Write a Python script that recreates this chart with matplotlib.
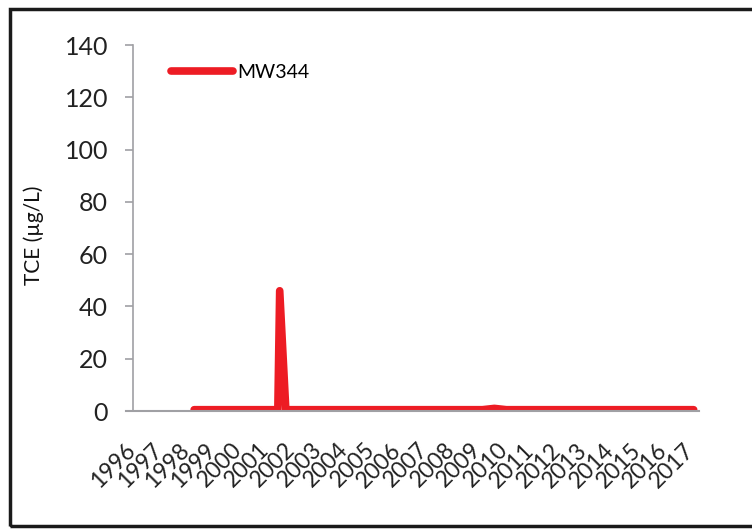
import matplotlib
matplotlib.use("Agg")
import matplotlib.pyplot as plt
import matplotlib.patches as mpatches
import matplotlib.transforms as mtransforms
import numpy as np

# sample dates (decimal years) and TCE concentrations for MW344
dates = [1998.3, 1999.0, 1999.6, 2000.3, 2000.9, 2001.45, 2001.52, 2001.75,
         2002.5, 2003.3, 2004.2, 2005.2, 2006.1, 2007.1, 2008.2, 2009.15,
         2009.6, 2010.05, 2011.1, 2012.1, 2013.1, 2014.1, 2015.1, 2016.1, 2017.1]
tce = [0.5, 0.5, 0.5, 0.5, 0.5, 0.5, 46, 0.5,
       0.5, 0.5, 0.5, 0.5, 0.5, 0.5, 0.5, 0.5,
       1.0, 0.5, 0.5, 0.5, 0.5, 0.5, 0.5, 0.5, 0.5]
years = list(range(1996, 2018))
yticks = [0, 20, 40, 60, 80, 100, 120, 140]

plt.rcParams['font.family'] = ['Lato', 'DejaVu Sans']

fig = plt.figure(figsize=(7.52, 5.30), dpi=100)
ax = fig.add_axes([0.1769, 0.2245, 0.7526, 0.6905])

ax.plot(dates, tce, color='#ED1C24', lw=5.5, solid_capstyle='round',
        solid_joinstyle='round', label='MW344')

ax.set_xlim(1996, 2017.3)
ax.set_ylim(0, 140)
ax.set_yticks(yticks)
ax.set_yticklabels([str(v) for v in yticks], fontsize=18, color='#222222')
ax.set_xticks(years)
ax.set_xticklabels([str(y) for y in years], rotation=45, ha='right',
                   rotation_mode='anchor', fontsize=16.5, color='#222222')
ax.tick_params(axis='x', length=0, pad=8)
ax.tick_params(axis='y', length=6, color='#A0A0A4', width=1.2, pad=12)

# push the slanted year labels down/left a bit
shift = mtransforms.ScaledTranslation(-0.08, -0.17, fig.dpi_scale_trans)
for lab in ax.get_xticklabels():
    lab.set_transform(lab.get_transform() + shift)

for s in ['top', 'right']:
    ax.spines[s].set_visible(False)
ax.spines['left'].set_color('#A0A0A4')
ax.spines['bottom'].set_color('#A0A0A4')
ax.spines['left'].set_linewidth(1.2)
ax.spines['bottom'].set_linewidth(1.5)
ax.spines['bottom'].set_bounds(1995.72, 2017.3)

ax.set_ylabel('TCE (µg/L)', fontsize=15, color='#111111')
ax.yaxis.set_label_coords(-0.158, 0.48)

leg = ax.legend(loc='upper left', bbox_to_anchor=(0.036, 0.997), frameon=False,
                fontsize=14, handlelength=3.2, handletextpad=0.2)

# outer frame of the chart
frame = mpatches.Rectangle((10/752, 4/530), 1.0, 517/530, transform=fig.transFigure,
                           fill=False, edgecolor='#1a1a1a', lw=2.5, clip_on=False)
fig.patches.append(frame)

plt.savefig('out.png', dpi=100)
